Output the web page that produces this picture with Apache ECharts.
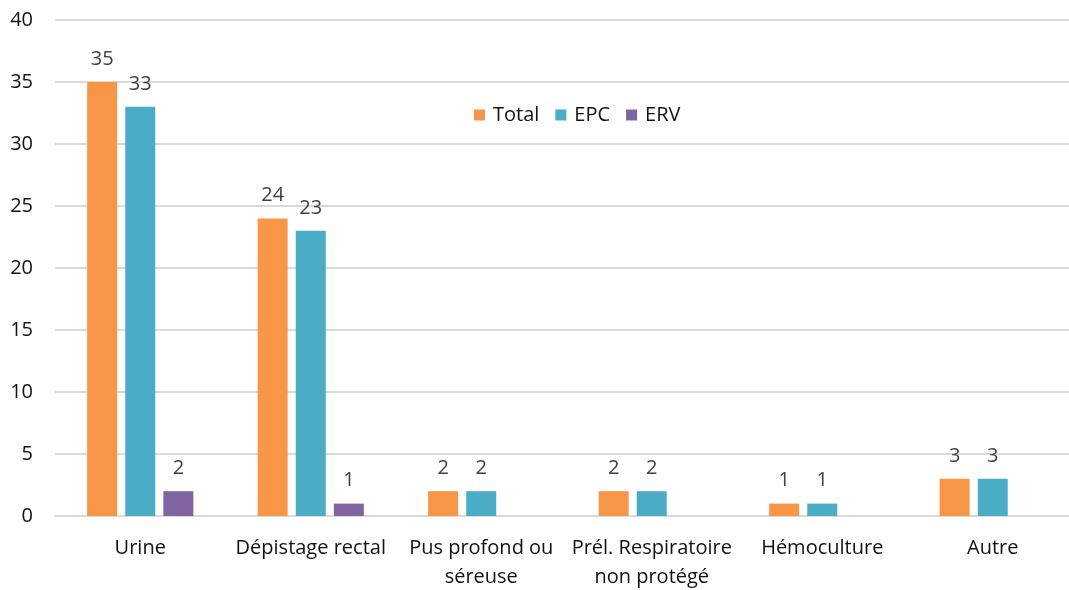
<!DOCTYPE html>
<html>
<head>
<meta charset="utf-8">
<script src="https://cdn.jsdelivr.net/npm/echarts@6/dist/echarts.min.js"></script>
<style>
  html, body { margin: 0; padding: 0; background: #fff; }
  #chart { width: 1069px; height: 590px; }
</style>
</head>
<body>
<div id="chart"></div>
<script>
  // données
  const categories = ['Urine', 'Dépistage rectal', 'Pus profond ou\nséreuse', 'Prél. Respiratoire\nnon protégé', 'Hémoculture', 'Autre'];
  const total = [35, 24, 2, 2, 1, 3];
  const epc = [33, 23, 2, 2, 1, 3];
  const erv = [2, 1, 0, 0, 0, 0];
  const yTicks = [0, 5, 10, 15, 20, 25, 30, 35, 40];

  const font = '"Open Sans", "Noto Sans", sans-serif';

  const chart = echarts.init(document.getElementById('chart'));

  const barLabel = {
    show: true,
    position: 'top',
    distance: 13,
    color: '#404040',
    fontFamily: font,
    fontSize: 20,
    formatter: p => (p.value ? p.value : '')
  };

  function makeSeries(name, values, color) {
    return {
      name: name,
      type: 'bar',
      barWidth: 30,
      barGap: '27%',
      itemStyle: { color: color },
      label: barLabel,
      data: values.map(v => (v === 0 ? null : v))
    };
  }

  chart.setOption({
    animation: false,
    textStyle: { fontFamily: font },
    legend: {
      left: 469,
      top: 100,
      itemWidth: 11,
      itemHeight: 11,
      itemGap: 16,
      icon: 'rect',
      textStyle: { fontFamily: font, fontSize: 20, color: '#111', padding: [0, 0, 0, 3] },
      data: ['Total', 'EPC', 'ERV']
    },
    grid: {
      left: 55,
      top: 20,
      width: 1023,
      height: 496,
      outerBoundsMode: 'none',
      containLabel: false
    },
    xAxis: {
      type: 'category',
      data: categories,
      axisLine: { lineStyle: { color: '#d9d9d9', width: 2 } },
      axisTick: { show: false },
      axisLabel: {
        color: '#111',
        fontFamily: font,
        fontSize: 20,
        margin: 18,
        lineHeight: 29,
        interval: 0
      }
    },
    yAxis: {
      type: 'value',
      min: yTicks[0],
      max: yTicks[yTicks.length - 1],
      interval: 5,
      axisLine: { show: false },
      axisTick: { show: false },
      splitLine: { lineStyle: { color: '#d9d9d9', width: 2 } },
      axisLabel: {
        color: '#111',
        fontFamily: font,
        fontSize: 20,
        margin: 22
      }
    },
    series: [
      makeSeries('Total', total, '#F79646'),
      makeSeries('EPC', epc, '#4BACC6'),
      makeSeries('ERV', erv, '#8064A2')
    ]
  });
</script>
</body>
</html>
